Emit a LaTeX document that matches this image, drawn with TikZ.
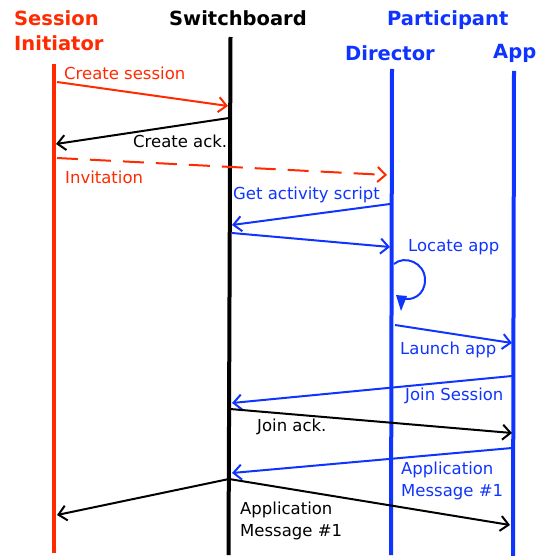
\documentclass[tikz,border=0pt]{standalone}
\usepackage{fontspec}
\setmainfont{DejaVu Sans}
\usetikzlibrary{arrows.meta}
\definecolor{sred}{RGB}{255,42,0}
\definecolor{sblue}{RGB}{16,52,255}
\tikzset{
  lifeline/.style={line width=4pt},
  msg/.style={line width=2pt,-{Straight Barb[length=8pt,width=15pt,line width=2pt]}},
  hdr/.style={font=\fontsize{19.5}{23}\selectfont\bfseries,inner sep=0pt,anchor=base west},
  lbl/.style={font=\fontsize{16.5}{21.5}\selectfont,inner sep=0pt,anchor=base west},
}
\begin{document}
\begin{tikzpicture}[x=1pt,y=-1pt]
\useasboundingbox (0,0) rectangle (543,556);
% headers
\node[hdr,text=sred] (hs) at (14,26) {Session};
\node[hdr,text=sred] (hi) at (14,51) {Initiator};
\node[hdr] (hsw) at (169,26) {Switchboard};
\node[hdr,text=sblue] (hp) at (387,26) {Participant};
\node[hdr,text=sblue] (hd) at (345,61) {Director};
\node[hdr,text=sblue] (ha) at (493,59) {App};
% lifelines
\coordinate (siT) at (54,64); \coordinate (siB) at (54,553);
\coordinate (swT) at (230.5,37); \coordinate (swB) at (228.5,555);
\coordinate (drT) at (392,69); \coordinate (drB) at (391,555);
\coordinate (apT) at (514,71); \coordinate (apB) at (513,556);
\draw[lifeline,sred] (siT) -- (siB);
\draw[lifeline] (swT) -- (swB);
\draw[lifeline,sblue] (drT) -- (drB);
\draw[lifeline,sblue] (apT) -- (apB);
% message end points
\coordinate (m1a) at (57,82);   \coordinate (m1b) at (228,106);
\coordinate (m2a) at (229,118); \coordinate (m2b) at (56,144);
\coordinate (m3a) at (57,158);  \coordinate (m3b) at (387,175);
\coordinate (m4a) at (390,204); \coordinate (m4b) at (232,225);
\coordinate (m5a) at (232,233); \coordinate (m5b) at (390,247);
\coordinate (m6a) at (395,325); \coordinate (m6b) at (512,343);
\coordinate (m7a) at (512,376); \coordinate (m7b) at (232,403);
\coordinate (m8a) at (230,409); \coordinate (m8b) at (512,433);
\coordinate (m9a) at (512,448); \coordinate (m9b) at (232,473);
\coordinate (m10a) at (229,479); \coordinate (m10b) at (57,515);
\coordinate (m11b) at (510,525);
% messages
\draw[msg,sred] (m1a) -- (m1b);
\draw[msg] (m2a) -- (m2b);
\draw[msg,sred,dash pattern=on 21pt off 12pt] (m3a) -- (m3b);
\draw[msg,sblue] (m4a) -- (m4b);
\draw[msg,sblue] (m5a) -- (m5b);
\draw[msg,sblue] (m6a) -- (m6b);
\draw[msg,sblue] (m7a) -- (m7b);
\draw[msg] (m8a) -- (m8b);
\draw[msg,sblue] (m9a) -- (m9b);
\draw[msg] (m10a) -- (m10b);
\draw[msg] (m10a) -- (m11b);
% self loop
\coordinate (lpA) at (394,264);
\coordinate (lpB) at (401,298);
\draw[sblue,line width=2pt] (lpA) .. controls (404,255) and (425,262) .. (425,280)
  .. controls (425,295) and (412,302) .. (lpB);
\fill[sblue] (396,295) -- (407,296) -- (401,311) -- cycle;
% labels
\node[lbl,text=sred] (l1) at (64,80) {Create session};
\node[lbl] (l2) at (133,148) {Create ack.};
\node[lbl,text=sred] (l3) at (65,183) {Invitation};
\node[lbl,text=sblue] (l4) at (233,199) {Get activity script};
\node[lbl,text=sblue] (l5) at (408,251) {Locate app};
\node[lbl,text=sblue] (l6) at (400,354) {Launch app};
\node[lbl,text=sblue] (l7) at (405,400) {Join Session};
\node[lbl] (l8) at (257,431) {Join ack.};
\node[lbl,text=sblue,align=left] (l9) at (401,496) {Application\\Message \#1};
\node[lbl,align=left] (l10) at (240,536) {Application\\Message \#1};
\end{tikzpicture}
\end{document}
